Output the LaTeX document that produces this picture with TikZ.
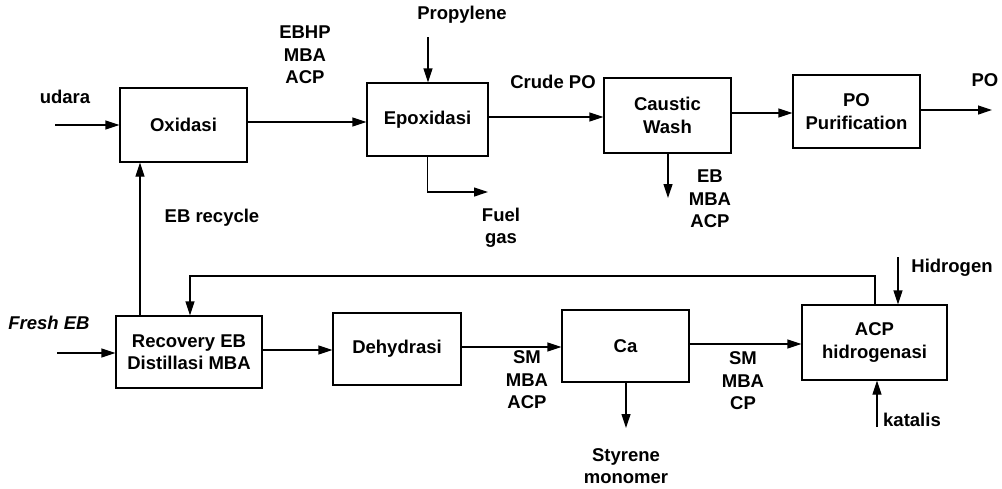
\documentclass[tikz,border=0pt]{standalone}
\usepackage{fontspec}
\setmainfont{Liberation Sans}
\usetikzlibrary{arrows.meta}
\begin{document}
\begin{tikzpicture}[x=1pt,y=-1pt,
  box/.style={draw, line width=1.2pt, inner sep=0pt, align=center, font=\fontsize{18.5}{22.5}\selectfont\bfseries},
  lbl/.style={inner sep=0pt, align=center, font=\fontsize{18.5}{22.5}\selectfont\bfseries},
  flow/.style={line width=1.2pt, -{Triangle[length=14pt,width=9pt]}},
  pipe/.style={line width=1.2pt}]
\useasboundingbox (0,0) rectangle (1002,488);
% boxes
\node[box, minimum width=127pt, minimum height=74pt] (ox) at (183.5,125) {Oxidasi};
\node[box, minimum width=121pt, minimum height=73pt] (ep) at (427.5,119.5) {Epoxidasi};
\node[box, minimum width=127pt, minimum height=75pt] (cw) at (667.5,115.5) {Caustic\\Wash};
\node[box, minimum width=127pt, minimum height=73pt] (po) at (856.5,111.5) {PO\\Purification};
\node[box, minimum width=146pt, minimum height=72pt] (rec) at (189,352) {Recovery EB\\Distillasi MBA};
\node[box, minimum width=128pt, minimum height=72pt] (deh) at (397,349) {Dehydrasi};
\node[box, minimum width=127pt, minimum height=72pt] (ca) at (625.5,346) {Ca};
\node[box, minimum width=145pt, minimum height=75pt] (acp) at (874.5,342.5) {ACP\\hidrogenasi};
% labels
\node[lbl] (ludara) at (65,97) {udara};
\node[lbl] (lebhp) at (305,55) {EBHP\\MBA\\ACP};
\node[lbl] (lprop) at (462,15) {Propylene};
\node[lbl] (lfuel) at (501,228) {Fuel\\gas};
\node[lbl] (lcrude) at (553,82) {Crude PO};
\node[lbl] (lpo) at (985,80) {PO};
\node[lbl] (lebmba) at (710,199) {EB\\MBA\\ACP};
\node[lbl] (lrecyc) at (212,218) {EB recycle};
\node[lbl, font=\fontsize{18.5}{22.5}\selectfont\bfseries\itshape] (lfresh) at (49,323) {Fresh EB};
\node[lbl] (lsm1) at (527,380) {SM\\MBA\\ACP};
\node[lbl] (lsm2) at (743,381) {SM\\MBA\\CP};
\node[lbl] (lsty) at (626,466) {Styrene\\monomer};
\node[lbl] (lhid) at (952,268) {Hidrogen};
\node[lbl] (lkat) at (912,420) {katalis};
% helper coordinates
\coordinate (uin) at (55,125);
\coordinate (y122) at (0,122);
\coordinate (pin) at (428,37);
\coordinate (fg) at (488,192);
\coordinate (y117) at (0,117);
\coordinate (y113) at (0,113);
\coordinate (poout) at (992,110);
\coordinate (cwout) at (668,198);
\coordinate (ebx) at (140,0);
\coordinate (fin) at (57,353);
\coordinate (y350) at (0,350);
\coordinate (y347) at (0,347);
\coordinate (y344) at (0,344);
\coordinate (caout) at (626,428);
\coordinate (hin) at (898,257);
\coordinate (kin) at (877,427);
\coordinate (rtop) at (875,276);
\coordinate (rleft) at (190,276);
% connectors
\draw[flow] (uin) -- (uin -| ox.west);
\draw[flow] (ox.east |- y122) -- (ep.west |- y122);
\draw[flow] (pin) -- (pin |- ep.north);
\draw[flow] (ep.south) |- (fg);
\draw[flow] (ep.east |- y117) -- (cw.west |- y117);
\draw[flow] (cw.east |- y113) -- (po.west |- y113);
\draw[flow] (po.east |- poout) -- (poout);
\draw[flow] (cwout |- cw.south) -- (cwout);
\draw[flow] (ebx |- rec.north) -- (ebx |- ox.south);
\draw[flow] (fin) -- (fin -| rec.west);
\draw[flow] (rec.east |- y350) -- (deh.west |- y350);
\draw[flow] (deh.east |- y347) -- (ca.west |- y347);
\draw[flow] (ca.east |- y344) -- (acp.west |- y344);
\draw[flow] (caout |- ca.south) -- (caout);
\draw[flow] (hin) -- (hin |- acp.north);
\draw[flow] (kin) -- (kin |- acp.south);
\draw[flow] (rtop |- acp.north) -- (rtop) -- (rleft) -- (rleft |- rec.north);
\end{tikzpicture}
\end{document}
